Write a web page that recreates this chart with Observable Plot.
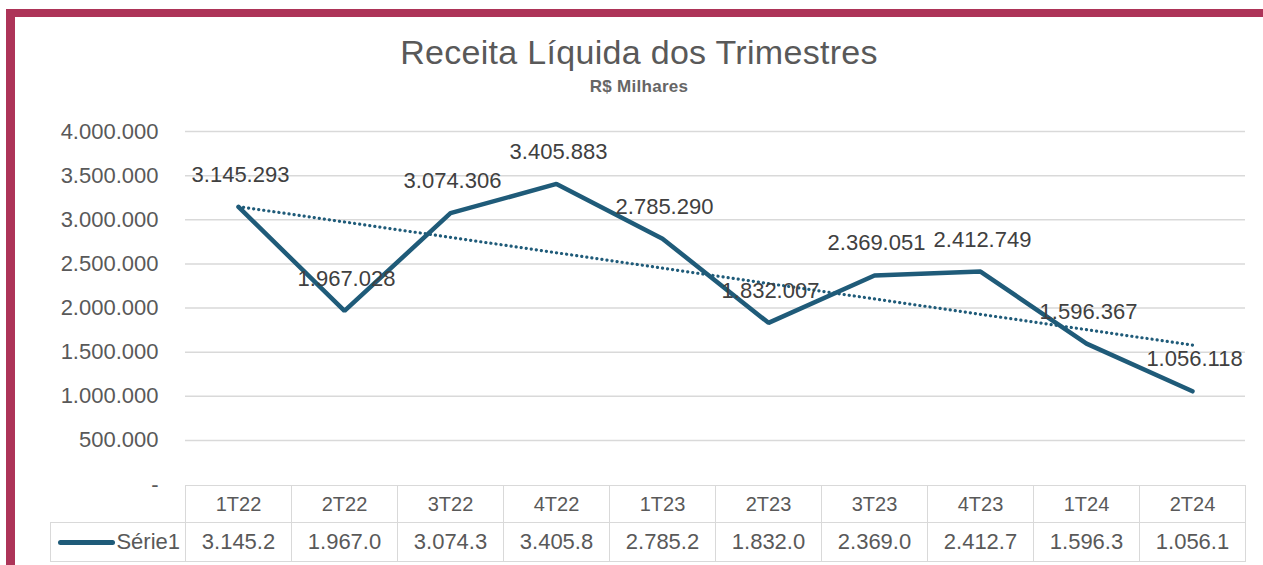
<!DOCTYPE html>
<html>
<head>
<meta charset="utf-8">
<script src="https://cdn.jsdelivr.net/npm/d3@7"></script>
<script src="https://cdn.jsdelivr.net/npm/@observablehq/plot@0.6"></script>
<style>
  html, body { margin:0; padding:0; background:#fff; }
  #page { position:relative; width:1263px; height:565px; overflow:hidden; font-family:"Liberation Sans", Arial, sans-serif; }
  .band { position:absolute; background:#ad3458; }
  #title { position:absolute; left:15px; width:1248px; top:32px; text-align:center; font-size:34px; color:#595959; letter-spacing:0.3px; line-height:40px; }
  #subtitle { position:absolute; left:15px; width:1248px; top:77px; text-align:center; font-size:17px; font-weight:bold; color:#666; line-height:20px; letter-spacing:0.3px; }
  #chart { position:absolute; left:0; top:100px; }
  #tbl { position:absolute; left:50px; top:485px; border-collapse:collapse; table-layout:fixed; color:#595959; }
  #tbl td { border:1.5px solid #d9d9d9; text-align:center; padding:0; }
  #tbl tr.h td { height:36px; font-size:20px; }
  #tbl tr.d td { height:38px; font-size:22px; }
  #tbl td.blank { border:none; border-bottom:1.5px solid #d9d9d9; }
</style>
</head>
<body>
<div id="page">
  <div class="band" style="left:6px;top:9px;width:1257px;height:8px;"></div>
  <div class="band" style="left:6px;top:9px;width:9px;height:556px;"></div>
  <div id="title">Receita Líquida dos Trimestres</div>
  <div id="subtitle">R$ Milhares</div>
  <div id="chart"></div>
  <table id="tbl"></table>
</div>
<script>
const quarters = ["1T22","2T22","3T22","4T22","1T23","2T23","3T23","4T23","1T24","2T24"];
const receita = [3145293, 1967028, 3074306, 3405883, 2785290, 1832007, 2369051, 2412749, 1596367, 1056118];
const yTicks = [0, 500000, 1000000, 1500000, 2000000, 2500000, 3000000, 3500000, 4000000];
const seriesName = "Série1";
const lineColor = "#1f5b79";

const br = d3.formatLocale({decimal: ",", thousands: ".", grouping: [3], currency: ["R$", ""]});
const fmtInt = br.format(",d");
const tickFmt = d => d === 0 ? "-" : fmtInt(d);
// data-table style: thousands, one decimal (truncated)
const tableFmt = v => { const t = Math.floor(v / 100); return fmtInt(Math.floor(t / 10)) + "." + (t % 10); };

const data = quarters.map((q, i) => ({idx: i + 1, q, v: receita[i]}));

const chart = Plot.plot({
  width: 1263,
  height: 400,
  marginTop: 31,
  marginBottom: 16,
  marginLeft: 185,
  marginRight: 18,
  style: {fontFamily: "'Liberation Sans', Arial, sans-serif", fontSize: "22px", color: "#595959", background: "transparent", overflow: "visible"},
  x: {domain: [0.5, 10.5], axis: null},
  y: {domain: [0, 4000000], ticks: yTicks, tickFormat: tickFmt, tickSize: 0, tickPadding: 27, label: null},
  marks: [
    Plot.ruleY(yTicks.filter(d => d > 0), {stroke: "#d9d9d9", strokeWidth: 1.5}),
    Plot.linearRegressionY(data, {x: "idx", y: "v", ci: 0, stroke: lineColor, strokeWidth: 3.2, strokeDasharray: "0.1,5", strokeLinecap: "round"}),
    Plot.line(data, {x: "idx", y: "v", stroke: lineColor, strokeWidth: 4.5, strokeLinejoin: "miter"}),
    Plot.text(data, {x: "idx", y: "v", text: d => fmtInt(d.v), dy: -32, dx: 2, fill: "#404040", fontSize: 22})
  ]
});
document.getElementById("chart").appendChild(chart);

// data table under the chart
const tbl = d3.select("#tbl");
const colW = 106;
const cg = tbl.append("colgroup");
cg.append("col").style("width", "135px");
quarters.forEach(() => cg.append("col").style("width", colW + "px"));
const hr = tbl.append("tr").attr("class", "h");
hr.append("td").attr("class", "blank");
hr.selectAll("td.q").data(quarters).join("td").attr("class", "q").text(d => d);
const dr = tbl.append("tr").attr("class", "d");
const legendCell = dr.append("td").style("text-align", "right").style("padding-right", "5px").style("white-space", "nowrap");
legendCell.append("span").style("display", "inline-block").style("width", "57px").style("height", "5px")
  .style("border-radius", "3px").style("background", lineColor).style("vertical-align", "middle").style("margin-right", "1px");
legendCell.append("span").style("vertical-align", "middle").text(seriesName);
dr.selectAll("td.v").data(receita).join("td").attr("class", "v").text(d => tableFmt(d));
</script>
</body>
</html>
